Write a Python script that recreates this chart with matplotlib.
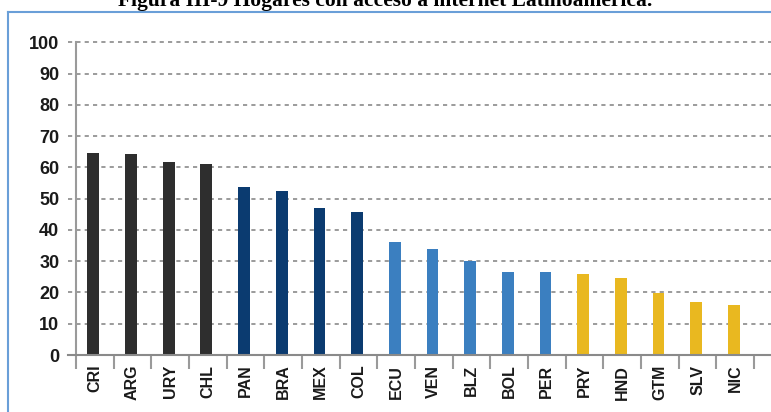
import matplotlib.pyplot as plt
from matplotlib.lines import Line2D
import numpy as np

countries = ['CRI', 'ARG', 'URY', 'CHL', 'PAN', 'BRA', 'MEX', 'COL', 'ECU',
             'VEN', 'BLZ', 'BOL', 'PER', 'PRY', 'HND', 'GTM', 'SLV', 'NIC']
values = [64.7, 64.2, 61.8, 61.1, 53.8, 52.4, 46.9, 45.8, 36.2,
          33.9, 30.2, 26.4, 26.4, 25.8, 24.7, 19.9, 16.9, 16.0]
groups = [0, 0, 0, 0, 1, 1, 1, 1, 2, 2, 2, 2, 2, 3, 3, 3, 3, 3]
group_colors = ['#2e2e2e', '#0b3b70', '#3b7fc0', '#e9b820']
yticks = [0, 10, 20, 30, 40, 50, 60, 70, 80, 90, 100]

W, H = 771, 412
fig = plt.figure(figsize=(W / 100, H / 100), dpi=100)
ax = fig.add_axes([76 / W, 1 - 355 / H, (771 - 76) / W, (355 - 42.3) / H])

x = np.arange(len(countries))
ax.bar(x - 0.04, values, width=0.31, color=[group_colors[g] for g in groups], zorder=3)

# dashed gridlines that also stick out left of the axis (like the original)
trans = ax.get_yaxis_transform()
for v in yticks[1:]:
    ax.plot([-0.011, 1], [v, v], transform=trans, color='#8a8a8a', lw=1.2,
            ls=(0, (2.5, 2.5)), clip_on=False, zorder=1)
ax.plot([-0.011, 1], [0, 0], transform=trans, color='#8a8a8a', lw=1.5,
        clip_on=False, zorder=4)

ax.set_xlim(-0.5, 17.95)
ax.set_ylim(0, 100)
for s in ['top', 'right', 'bottom']:
    ax.spines[s].set_visible(False)
ax.spines['left'].set_color('#9a9a9a')
ax.spines['left'].set_linewidth(1.5)

ax.set_yticks(yticks)
ax.set_yticklabels([str(v) for v in yticks], fontsize=13, fontweight='bold',
                   family='Liberation Sans', color='#1a1a1a')
ax.tick_params(axis='y', length=0, pad=12)

ax.set_xticks(x)
ax.set_xticklabels(countries, rotation=90, fontsize=11.5, fontweight='bold',
                   family='Liberation Sans', color='#1a1a1a')
ax.tick_params(axis='x', which='major', length=0, pad=7)
ax.set_xticks(np.arange(-0.5, 18, 1), minor=True)
ax.tick_params(axis='x', which='minor', length=10, width=1.5, color='#9a9a9a',
               direction='out')

# blue frame around the figure (partly cut off)
fc = '#6a9fd8'
fig.add_artist(Line2D([8 / W, 8 / W], [0, 1 - 12 / H], color=fc, lw=1.5))
fig.add_artist(Line2D([8 / W, 1], [1 - 12 / H, 1 - 12 / H], color=fc, lw=1.5))

fig.text(0.5, 1 - 6 / H, 'Figura III-9 Hogares con acceso a internet Latinoamérica.',
         ha='center', va='baseline', fontsize=15.5, fontweight='bold',
         family='Liberation Serif')

fig.savefig('out.png', dpi=100)
